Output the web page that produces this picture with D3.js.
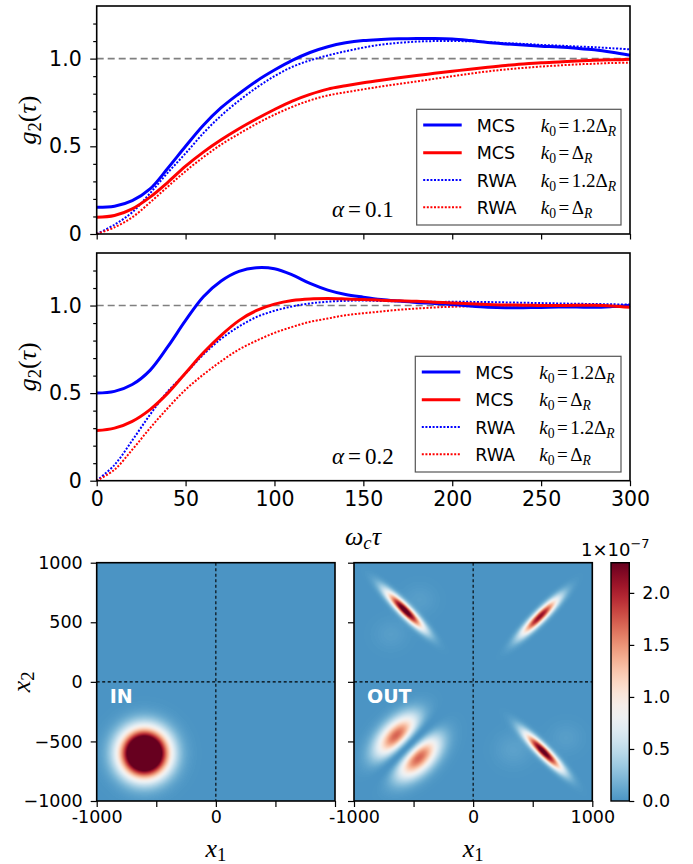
<!DOCTYPE html>
<html><head><meta charset="utf-8">
<script src="https://cdn.jsdelivr.net/npm/d3@7"></script>
<style>body{margin:0;background:#fff}svg{display:block}</style>
</head><body>
<svg id="c" width="693" height="864"></svg>
<script>
// ---------- data ----------
const tau = d3.range(0, 301, 10);
// alpha = 0.1 panel
const a1_MCS_12 = [0.152,0.158,0.19,0.257,0.375,0.50,0.62,0.72,0.80,0.873,0.935,0.99,1.035,1.068,1.09,1.103,1.109,1.113,1.115,1.115,1.112,1.103,1.092,1.084,1.077,1.071,1.066,1.059,1.050,1.036,1.019];
const a1_MCS_10 = [0.095,0.105,0.143,0.21,0.295,0.387,0.467,0.537,0.60,0.657,0.71,0.758,0.796,0.826,0.845,0.862,0.877,0.891,0.904,0.916,0.928,0.94,0.951,0.961,0.969,0.976,0.981,0.986,0.99,0.993,0.996];
const a1_RWA_12 = [0,0.053,0.124,0.232,0.35,0.46,0.575,0.675,0.76,0.835,0.9,0.953,0.99,1.018,1.042,1.063,1.08,1.09,1.097,1.10,1.10,1.099,1.094,1.088,1.084,1.078,1.074,1.069,1.065,1.059,1.053];
const a1_RWA_10 = [0,0.038,0.095,0.18,0.27,0.358,0.438,0.51,0.571,0.629,0.68,0.725,0.762,0.79,0.808,0.825,0.841,0.856,0.87,0.885,0.9,0.914,0.927,0.938,0.947,0.955,0.961,0.967,0.971,0.975,0.977];
// alpha = 0.2 panel
const a2_MCS_12 = [0.5,0.51,0.549,0.63,0.765,0.915,1.05,1.14,1.195,1.216,1.21,1.175,1.126,1.088,1.063,1.048,1.035,1.026,1.018,1.012,1.006,0.997,0.99,0.987,0.988,0.989,0.991,0.991,0.99,0.994,1.0];
const a2_MCS_10 = [0.286,0.30,0.339,0.406,0.50,0.615,0.73,0.83,0.914,0.972,1.008,1.029,1.038,1.04,1.038,1.035,1.03,1.027,1.024,1.019,1.015,1.01,1.006,1.003,1.002,1.0,1.0,1.001,1.002,0.998,0.99];
const a2_RWA_12 = [0,0.09,0.23,0.377,0.51,0.612,0.72,0.81,0.88,0.935,0.97,0.995,1.012,1.022,1.027,1.029,1.026,1.024,1.022,1.021,1.021,1.021,1.02,1.018,1.016,1.014,1.012,1.01,1.009,1.007,1.006];
const a2_RWA_10 = [0,0.063,0.177,0.30,0.415,0.52,0.606,0.682,0.749,0.80,0.844,0.878,0.907,0.926,0.945,0.956,0.966,0.976,0.983,0.989,0.993,0.996,0.999,1.0,1.0,1.0,1.0,0.999,0.998,0.997,0.996];

const xTicks = [0,50,100,150,200,250,300];
const yMajor = [0,0.5,1.0];
const yMinor = [0.1,0.2,0.3,0.4,0.6,0.7,0.8,0.9,1.1,1.2];
const seriesNames = ["MCS", "MCS", "RWA", "RWA"];
const seriesK = ["1.2", "", "1.2", ""];
const seriesColors = ["#0000ff","#ff0000","#0000ff","#ff0000"];
const seriesDotted = [false,false,true,true];
const alphaLabels = ["0.1","0.2"];

// heatmap blobs: [cx, cy, sigmaMajor, sigmaMinor, angleDeg, amplitude(1e-7), order]
const inBlobs = [[-600,-600,130,130,0,4.3,0]];
const outBlobs = [
  [-572, 600, 145, 30, -45, 2.45, 0],
  [ 560, 548, 145, 30,  45, 2.15, 0],
  [ 590,-586, 145, 30, -45, 2.4, 0],
  [-551,-544, 150, 95,  45, 1.7, 1],
  [-450, 690, 100, 90, 0, 0.06, 0],
  [-690, 400, 100, 90, 0, 0.06, 0],
  [ 340,-570, 110, 100, 0, 0.08, 0],
  [ 780,-470, 100, 90, 0, 0.06, 0]
];
const hTicks = [-1000,-500,0,500,1000];
const hxLabelsLeft = {"-1000":"-1000","0":"0"};
const hxLabelsRight = {"-1000":"-1000","0":"0","1000":"1000"};
const cbTicks = [0,0.5,1.0,1.5,2.0];
const vmax = 2.29;

// ---------- drawing ----------
const svg = d3.select("#c");
const SANS = "DejaVu Sans, sans-serif";
const SERIF = "Liberation Serif, DejaVu Serif, serif";

const x = d3.scaleLinear([0,300],[96.7,630]);
const panels = [
  {y: d3.scaleLinear([0,1.3],[234,6]), data:[a1_MCS_12,a1_MCS_10,a1_RWA_12,a1_RWA_10], lab:false, leg:{x:416.7,y:109.3,w:204.3,h:115.7}, alpha:alphaLabels[0]},
  {y: d3.scaleLinear([0,1.3],[480.7,253]), data:[a2_MCS_12,a2_MCS_10,a2_RWA_12,a2_RWA_10], lab:true, leg:{x:415.3,y:356.3,w:205.7,h:115.7}, alpha:alphaLabels[1]}
];

function mathText(sel, parts, size) {
  parts.forEach(p => {
    const t = sel.append("tspan").text(p.t)
      .attr("font-family", SERIF)
      .attr("font-size", p.sub ? size*0.72 : size)
      .attr("font-style", p.it ? "italic" : "normal");
    if (p.dy) t.attr("dy", p.dy);
    if (p.dx) t.attr("dx", p.dx);
  });
}

panels.forEach((P, pi) => {
  const g = svg.append("g");
  const y = P.y;
  g.append("line").attr("x1", x(0)).attr("x2", x(300)).attr("y1", y(1)).attr("y2", y(1))
    .attr("stroke","#808080").attr("stroke-width",1.6).attr("stroke-dasharray","7,4");
  const line = d3.line().x((d,i)=>x(tau[i])).y(d=>y(d)).curve(d3.curveCatmullRom.alpha(0.5));
  [2,3,0,1].forEach(si => {
    g.append("path").datum(P.data[si]).attr("d", line).attr("fill","none")
      .attr("stroke", seriesColors[si])
      .attr("stroke-width", seriesDotted[si] ? 2 : 3)
      .attr("stroke-dasharray", seriesDotted[si] ? "2,1.6" : null);
  });
  const ax = g.append("g").attr("transform",`translate(0,${y(0)})`)
    .call(d3.axisBottom(x).tickValues(xTicks).tickSize(5.5).tickPadding(5).tickFormat(P.lab ? d3.format("d") : ""));
  const ayMaj = g.append("g").attr("transform",`translate(${x(0)},0)`)
    .call(d3.axisLeft(y).tickValues(yMajor).tickSize(6.5).tickPadding(8.5).tickFormat(d => d===0 ? "0" : d.toFixed(1)));
  const ayMin = g.append("g").attr("transform",`translate(${x(0)},0)`)
    .call(d3.axisLeft(y).tickValues(yMinor).tickSize(3.5).tickFormat(""));
  [ax, ayMaj, ayMin].forEach(a => {
    a.select(".domain").remove();
    a.selectAll("line").attr("stroke","#000").attr("stroke-width",1.2);
    a.selectAll("text").attr("font-family", SANS).attr("font-size", 20.5).attr("fill","#000");
  });
  g.append("rect").attr("x", x(0)).attr("y", y(1.3)).attr("width", x(300)-x(0)).attr("height", y(0)-y(1.3))
    .attr("fill","none").attr("stroke","#000").attr("stroke-width",1.6);
  const yl = g.append("text").attr("transform",`translate(36,${(y(0)+y(1.3))/2}) rotate(-90)`).attr("text-anchor","middle");
  mathText(yl, [{t:"g",it:true},{t:"2",sub:true,dy:5},{t:"(",dy:-5},{t:"τ",it:true},{t:")"}], 26);
  const al = g.append("text").attr("x", 332).attr("y", y(0) - 17);
  mathText(al, [{t:"α",it:true},{t:"=",dx:4},{t:P.alpha,dx:4}], 23);
  const L = P.leg;
  g.append("rect").attr("x",L.x).attr("y",L.y).attr("width",L.w).attr("height",L.h)
    .attr("fill","#fff").attr("stroke","#555").attr("stroke-width",1.2);
  const rowY = [15.7, 43.4, 70.7, 98.0];
  seriesNames.forEach((nm, si) => {
    const ry = L.y + rowY[si];
    g.append("line").attr("x1", L.x+6.5).attr("x2", L.x+45).attr("y1", ry).attr("y2", ry)
      .attr("stroke", seriesColors[si]).attr("stroke-width", seriesDotted[si] ? 2 : 3)
      .attr("stroke-dasharray", seriesDotted[si] ? "2,1.6" : null);
    g.append("text").attr("x", L.x+60).attr("y", ry+6.5).attr("font-family",SANS).attr("font-size",17.5).text(nm);
    const mt = g.append("text").attr("x", L.x+124).attr("y", ry+6.5);
    mathText(mt, [{t:"k",it:true},{t:"0",sub:true,dy:4},{t:"=",dx:2.5,dy:-4},{t:seriesK[si]+"Δ",dx:2.5},{t:"R",it:true,sub:true,dy:4}], 19);
  });
});

const xl = svg.append("text").attr("x", 363).attr("y", 545).attr("text-anchor","middle");
mathText(xl, [{t:"ω",it:true},{t:"c",it:true,sub:true,dy:4},{t:"τ",it:true,dy:-4}], 26);

// ---------- heatmaps ----------
const hy = d3.scaleLinear([-1000,1000],[801,562.7]);
const hxs = [d3.scaleLinear([-1000,1000],[96.7,335]), d3.scaleLinear([-1000,1000],[354,592.3])];
const lut = d3.range(256).map(i => d3.rgb(d3.interpolateRdBu(1 - (0.2 + 0.8*i/255))));
function field(blobs, px, py) {
  let v = 0;
  blobs.forEach(([cx,cy,sa,sb,ang,amp,ord]) => {
    const th = ang*Math.PI/180, dx = px-cx, dy = py-cy;
    const a = dx*Math.cos(th) + dy*Math.sin(th);
    const b = -dx*Math.sin(th) + dy*Math.cos(th);
    const e = Math.exp(-(a*a/(2*sa*sa) + b*b/(2*sb*sb)));
    v += ord === 1 ? amp*(Math.E/2)*(b*b/(sb*sb))*e : amp*e;
  });
  return v;
}
function heatImage(blobs, N) {
  const cv = document.createElement("canvas"); cv.width = N; cv.height = N;
  const ctx = cv.getContext("2d"); const img = ctx.createImageData(N, N);
  for (let j=0;j<N;j++) for (let i=0;i<N;i++) {
    const px = -1000 + (i+0.5)/N*2000, py = 1000 - (j+0.5)/N*2000;
    let v = field(blobs, px, py) / vmax; v = Math.max(0, Math.min(1, v));
    const c = lut[Math.round(v*255)], k = 4*(j*N+i);
    img.data[k]=c.r; img.data[k+1]=c.g; img.data[k+2]=c.b; img.data[k+3]=255;
  }
  ctx.putImageData(img,0,0);
  return cv.toDataURL();
}
[[inBlobs,"IN",hxLabelsLeft,true],[outBlobs,"OUT",hxLabelsRight,false]].forEach(([blobs,lab,xlabs,showY], hi) => {
  const hx = hxs[hi];
  const g = svg.append("g");
  g.append("image").attr("href", heatImage(blobs, 240)).attr("x", hx(-1000)).attr("y", hy(1000))
    .attr("width", hx(1000)-hx(-1000)).attr("height", hy(-1000)-hy(1000)).attr("preserveAspectRatio","none");
  g.append("line").attr("x1",hx(0)).attr("x2",hx(0)).attr("y1",hy(1000)).attr("y2",hy(-1000))
    .attr("stroke","#000").attr("stroke-width",1.1).attr("stroke-dasharray","3,2.5");
  g.append("line").attr("x1",hx(-1000)).attr("x2",hx(1000)).attr("y1",hy(0)).attr("y2",hy(0))
    .attr("stroke","#000").attr("stroke-width",1.1).attr("stroke-dasharray","3,2.5");
  g.append("rect").attr("x",hx(-1000)).attr("y",hy(1000)).attr("width",hx(1000)-hx(-1000)).attr("height",hy(-1000)-hy(1000))
    .attr("fill","none").attr("stroke","#000").attr("stroke-width",1.6);
  const ax = g.append("g").attr("transform",`translate(0,${hy(-1000)})`)
    .call(d3.axisBottom(hx).tickValues(hTicks).tickSize(6).tickPadding(4).tickFormat(d => xlabs[String(d)] || ""));
  const ay = g.append("g").attr("transform",`translate(${hx(-1000)},0)`)
    .call(d3.axisLeft(hy).tickValues(hTicks).tickSize(6).tickPadding(8).tickFormat(d => showY ? (d<0 ? "−"+Math.abs(d) : String(d)) : ""));
  [ax, ay].forEach(a => {
    a.select(".domain").remove();
    a.selectAll("line").attr("stroke","#000").attr("stroke-width",1.2);
    a.selectAll("text").attr("font-family",SANS).attr("font-size",17.5).attr("fill","#000");
  });
  g.append("text").attr("x", hx(-1000)+13).attr("y", hy(0)+21).attr("font-family",SANS).attr("font-weight","bold")
    .attr("font-size",19).attr("fill","#fff").text(lab);
  const x1l = g.append("text").attr("x", (hx(-1000)+hx(1000))/2).attr("y", 857).attr("text-anchor","middle");
  mathText(x1l, [{t:"x",it:true},{t:"1",sub:true,dy:4}], 26);
  if (showY) {
    const x2l = g.append("text").attr("transform",`translate(30,${hy(0)}) rotate(-90)`).attr("text-anchor","middle");
    mathText(x2l, [{t:"x",it:true},{t:"2",sub:true,dy:4}], 26);
  }
});

// colorbar
const cbx = 611, cbw = 18.3;
const cy = d3.scaleLinear([0,vmax],[801,562.7]);
const grad = svg.append("defs").append("linearGradient").attr("id","cbg").attr("x1",0).attr("x2",0).attr("y1",1).attr("y2",0);
d3.range(0,1.0001,0.05).forEach(t => grad.append("stop").attr("offset",t).attr("stop-color", d3.interpolateRdBu(1-(0.2+0.8*t))));
svg.append("rect").attr("x",cbx).attr("y",cy(vmax)).attr("width",cbw).attr("height",cy(0)-cy(vmax)).attr("fill","url(#cbg)")
  .attr("stroke","#000").attr("stroke-width",1.4);
const cba = svg.append("g").attr("transform",`translate(${cbx+cbw},0)`)
  .call(d3.axisRight(cy).tickValues(cbTicks).tickSize(5).tickPadding(8).tickFormat(d3.format(".1f")));
cba.select(".domain").remove();
cba.selectAll("line").attr("stroke","#000").attr("stroke-width",1.2);
cba.selectAll("text").attr("font-family",SANS).attr("font-size",17.5).attr("fill","#000");
const ex = svg.append("text").attr("x", 581).attr("y", 556).attr("font-family",SANS).attr("font-size",18);
ex.append("tspan").text("1×10");
ex.append("tspan").attr("dy",-8).attr("font-size",13).text("−7");
</script>
</body></html>
